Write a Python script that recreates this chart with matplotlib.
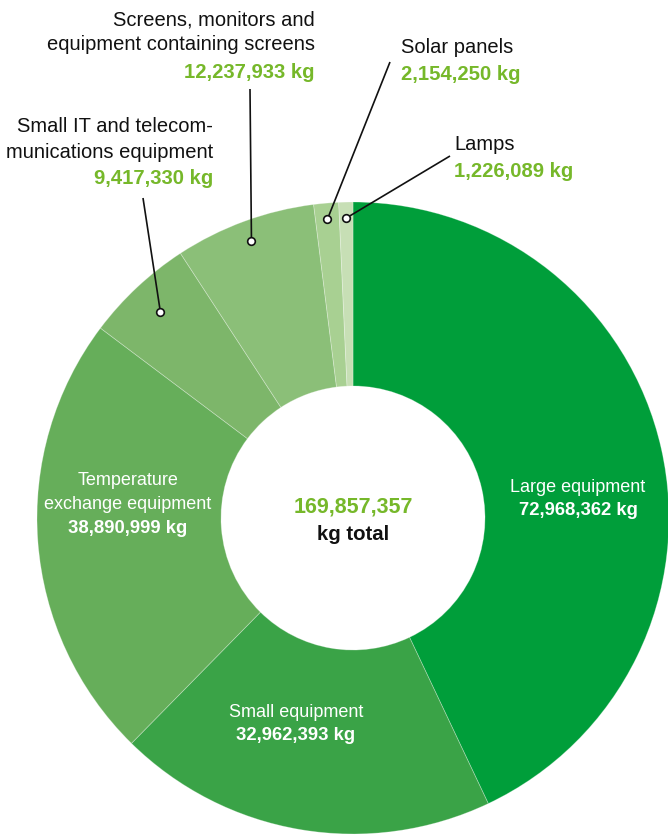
import numpy as np
import matplotlib.pyplot as plt

plt.rcParams['font.family'] = ['Liberation Sans', 'DejaVu Sans']

# WEEE collected by category, kg
categories = ['Large equipment', 'Small equipment', 'Temperature exchange equipment',
              'Small IT and telecommunications equipment',
              'Screens, monitors and equipment containing screens',
              'Solar panels', 'Lamps']
weights = [72968362, 32962393, 38890999, 9417330, 12237933, 2154250, 1226089]
total_kg = 169857357
colors = ['#009e3a', '#3aa347', '#66ae5a', '#7db66a', '#8bbf78', '#a8d092', '#c7dfb5']

W, H = 668, 836
LIME = '#76b82a'

fig = plt.figure(figsize=(W / 100, H / 100), dpi=100)
ax = fig.add_axes([0, 0, 1, 1])

cx, cy = 353, H - 518
r_out, r_in = 316, 132
wedges, _ = ax.pie(weights, colors=colors, startangle=90, counterclock=False,
                   radius=r_out, center=(cx, cy),
                   wedgeprops=dict(width=r_out - r_in, edgecolor=(1, 1, 1, 0.3),
                                   linewidth=0.6))
ax.set_xlim(0, W)
ax.set_ylim(0, H)
ax.set_aspect('equal')
ax.axis('off')


def fmt(v):
    return f'{v:,} kg'


def put(x, y, s, size, color='#111111', weight='normal', ha='center'):
    ax.text(x, H - y, s, fontsize=size, color=color, fontweight=weight,
            ha=ha, va='baseline')


# labels inside the ring
put(578, 492, 'Large equipment', 13, color='white')
put(578, 515, fmt(weights[0]), 13.3, color='white', weight='bold')
put(296, 717, 'Small equipment', 13, color='white')
put(296, 740, fmt(weights[1]), 13.3, color='white', weight='bold')
put(128, 485, 'Temperature', 13, color='white')
put(128, 509, 'exchange equipment', 13, color='white')
put(128, 533, fmt(weights[2]), 13.3, color='white', weight='bold')

# total in the hole
put(353, 513, f'{total_kg:,}', 15.5, color=LIME, weight='bold')
put(353, 540, 'kg total', 14.7, color='#111111', weight='bold')

# outside labels: (wedge index, text lines, anchor x, first baseline, ha, line start, dot radius)
callouts = [
    (3, ['Small IT and telecom-', 'munications equipment'], 213, 132, 'right', (143, 198), 282),
    (4, ['Screens, monitors and', 'equipment containing screens'], 315, 25, 'right', (250, 89), 295),
    (5, ['Solar panels'], 401, 53, 'left', (390, 62), 300),
    (6, ['Lamps'], 454, 150, 'left', (450, 156), 300),
]
for idx, lines, x, y0, ha, start, rd in callouts:
    for k, line in enumerate(lines):
        put(x, y0 + 25.5 * k, line, 14.5, ha=ha)
    put(x, y0 + 25.5 * len(lines) + 1.5, fmt(weights[idx]), 14.6, color=LIME,
        weight='bold', ha=ha)
    w = wedges[idx]
    mid = np.deg2rad((w.theta1 + w.theta2) / 2)
    dx, dy = cx + rd * np.cos(mid), cy + rd * np.sin(mid)
    ax.plot([start[0], dx], [H - start[1], dy], color='#111111', lw=1.2,
            solid_capstyle='butt', zorder=4)
    ax.plot(dx, dy, 'o', ms=5.5, mfc='white', mec='#111111', mew=1.2, zorder=5)

fig.savefig('out.png', dpi=100)
